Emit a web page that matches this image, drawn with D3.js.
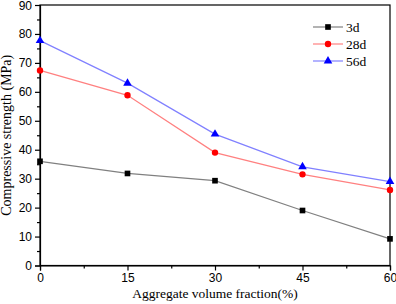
<!DOCTYPE html>
<html><head><meta charset="utf-8">
<script src="https://cdn.jsdelivr.net/npm/d3@7"></script>
<style>body{margin:0;background:#fff}svg{display:block}</style>
</head><body>
<script>
const xValues = [0, 15, 30, 45, 60];
const seriesNames = ["3d", "28d", "56d"];
const s3d  = [36.0, 31.8, 29.3, 19.0, 9.2];
const s28d = [67.4, 58.8, 39.0, 31.5, 26.1];
const s56d = [77.7, 63.0, 45.4, 34.1, 29.0];
const xTicks = [0, 15, 30, 45, 60];
const yTicks = [0, 10, 20, 30, 40, 50, 60, 70, 80, 90];
const xLabel = "Aggregate volume fraction(%)";
const yLabel = "Compressive strength (MPa)";

const W = 396, H = 304;
const L = 40, R = 390, T = 5, B = 265.5;
const svg = d3.select("body").append("svg").attr("width", W).attr("height", H);
const x = d3.scaleLinear().domain([0, 60]).range([L, R]);
const y = d3.scaleLinear().domain([0, 90]).range([B, T]);

const styles = [
  {line: "#808080", fill: "#000000", sym: d3.symbolSquare, size: 32},
  {line: "#ff8080", fill: "#ff0000", sym: d3.symbolCircle, size: 32},
  {line: "#8080ff", fill: "#0000ff", sym: d3.symbolTriangle, size: 32}
];
const data = [s3d, s28d, s56d];

// frame
svg.append("rect").attr("x", L).attr("y", T).attr("width", R - L).attr("height", B - T)
  .attr("fill", "none").attr("stroke", "#000").attr("stroke-width", 1.2);

// axes
const tickFont = "Liberation Sans, Arial, sans-serif";
svg.append("g").attr("transform", `translate(0,${B})`)
  .call(d3.axisBottom(x).tickValues(xTicks).tickSize(5).tickPadding(3).tickFormat(d3.format("d")));
svg.append("g").attr("transform", `translate(0,${B})`)
  .call(d3.axisBottom(x).tickValues([7.5, 22.5, 37.5, 52.5]).tickSize(3).tickFormat(""))
  .call(g => g.select(".domain").remove());
const yAxis = svg.append("g").attr("transform", `translate(${L},0)`)
  .call(d3.axisLeft(y).tickValues(yTicks).tickSize(5).tickPadding(3).tickFormat(d3.format("d")));
svg.append("g").attr("transform", `translate(${L},0)`)
  .call(d3.axisLeft(y).tickValues([5, 15, 25, 35, 45, 55, 65, 75, 85]).tickSize(3).tickFormat(""))
  .call(g => g.select(".domain").remove());
svg.selectAll(".tick text").attr("font-family", tickFont).attr("font-size", 12).attr("fill", "#000");
yAxis.selectAll(".tick text").filter(d => d === 90).attr("dy", "0.4em");
svg.selectAll(".tick line").attr("stroke", "#000").attr("stroke-width", 1.2);
svg.selectAll(".domain").attr("stroke", "#000").attr("stroke-width", 1.2);

// series
data.forEach((vals, i) => {
  const st = styles[i];
  const pts = xValues.map((xv, j) => [x(xv), y(vals[j])]);
  svg.append("path").attr("d", d3.line()(pts)).attr("fill", "none")
    .attr("stroke", st.line).attr("stroke-width", 1.2);
  svg.selectAll(null).data(pts).enter().append("path")
    .attr("d", d3.symbol().type(st.sym).size(st.size))
    .attr("transform", d => `translate(${d[0]},${d[1]})`)
    .attr("fill", st.fill);
});

// legend
const serif = "Liberation Serif, Times New Roman, serif";
seriesNames.forEach((name, i) => {
  const st = styles[i];
  const ly = 27 + i * 17;
  svg.append("line").attr("x1", 313).attr("x2", 343).attr("y1", ly).attr("y2", ly)
    .attr("stroke", st.line).attr("stroke-width", 1.2);
  svg.append("path").attr("d", d3.symbol().type(st.sym).size(st.size))
    .attr("transform", `translate(328,${ly})`).attr("fill", st.fill);
  svg.append("text").attr("x", 346).attr("y", ly + 4.5).text(name)
    .attr("font-family", serif).attr("font-size", 13.5).attr("fill", "#000");
});

// axis titles
svg.append("text").attr("x", 215).attr("y", 298).attr("text-anchor", "middle")
  .attr("font-family", serif).attr("font-size", 13.5).text(xLabel);
svg.append("text").attr("transform", `translate(11,${(T + B) / 2}) rotate(-90)`)
  .attr("text-anchor", "middle").attr("font-family", serif).attr("font-size", 14).text(yLabel);
</script>
</body></html>
